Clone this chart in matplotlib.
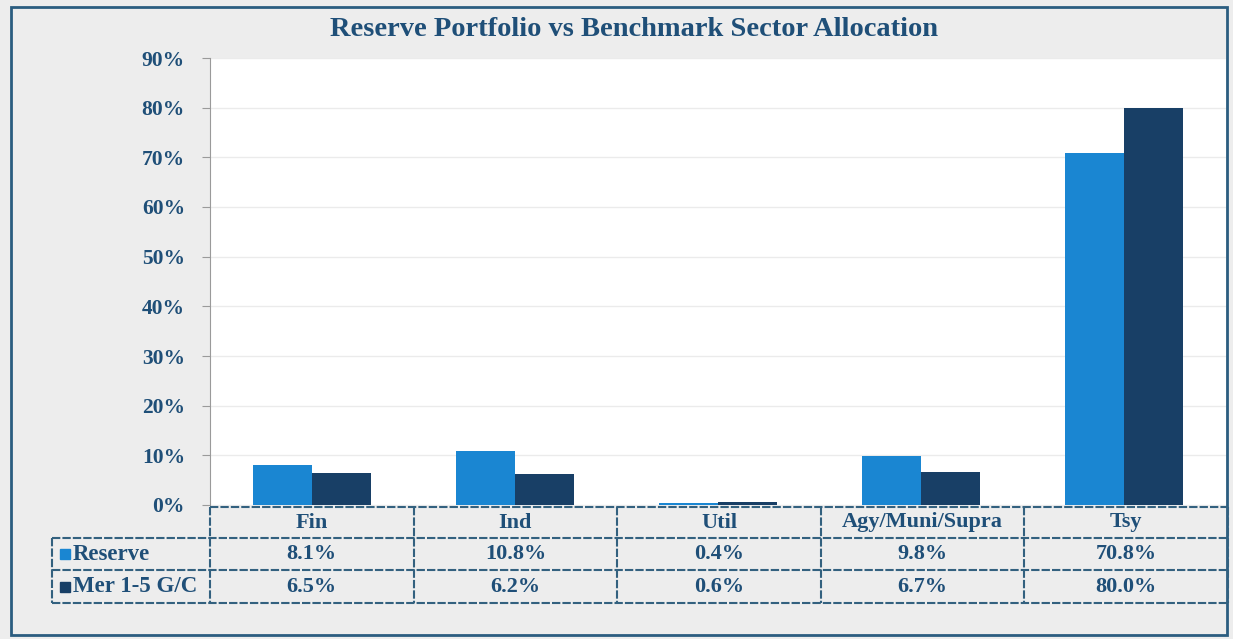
import matplotlib.pyplot as plt
from matplotlib.patches import Rectangle
from matplotlib.ticker import PercentFormatter

# Data
sectors = ['Fin', 'Ind', 'Util', 'Agy/Muni/Supra', 'Tsy']
reserve = [8.1, 10.8, 0.4, 9.8, 70.8]
benchmark = [6.5, 6.2, 0.6, 6.7, 80.0]
series_names = ['Reserve', 'Mer 1-5 G/C']
yticks = [0, 10, 20, 30, 40, 50, 60, 70, 80, 90]

navy_text = '#1f4f78'
c_res = '#1a86d2'
c_ben = '#183f66'
font = 'Liberation Serif'

W, H = 1233, 639
fig = plt.figure(figsize=(W / 100, H / 100), dpi=100, facecolor='#ededed')

def fx(px):
    return px / W

def fy(py):
    return 1 - py / H

# outer frame
fig.patches.append(Rectangle((fx(11), fy(635)), fx(1216), fy(7) - fy(635),
                             transform=fig.transFigure, fill=False,
                             edgecolor='#2b5d80', linewidth=2))

ax_left, ax_right, ax_top, ax_bot = 210, 1226, 58, 505
ax = fig.add_axes([fx(ax_left), fy(ax_bot), fx(ax_right - ax_left), fy(ax_top) - fy(ax_bot)])
ax.set_facecolor('white')

x = range(len(sectors))
w = 0.29
ax.bar([i - w / 2 for i in x], reserve, width=w, color=c_res, zorder=3)
ax.bar([i + w / 2 for i in x], benchmark, width=w, color=c_ben, zorder=3)
ax.set_xlim(-0.5, len(sectors) - 0.5)
ax.set_ylim(0, 90)
ax.set_yticks(yticks)
ax.yaxis.set_major_formatter(PercentFormatter(decimals=0))
ax.grid(axis='y', color='#ebebeb', linewidth=1, zorder=0)
ax.set_xticks([])
for s in ['top', 'right', 'bottom']:
    ax.spines[s].set_visible(False)
ax.spines['left'].set_color('#9a9a9a')
ax.spines['left'].set_linestyle((0, (2, 1)))
ax.tick_params(axis='y', length=6, color='#9a9a9a', pad=12)
for lab in ax.get_yticklabels():
    lab.set_fontfamily(font)
    lab.set_fontweight('bold')
    lab.set_fontsize(15.5)
    lab.set_color(navy_text)

fig.text(fx(634), fy(30), 'Reserve Portfolio vs Benchmark Sector Allocation',
         ha='center', va='center', fontfamily=font, fontweight='bold',
         fontsize=20.5, color=navy_text)

# data table under the axes
line_c = '#33617f'
col_w = (ax_right + 2 - ax_left) / len(sectors)
rows_y = [507, 538, 570, 603]
label_left = 52

def hline(x0, x1, y):
    fig.add_artist(plt.Line2D([fx(x0), fx(x1)], [fy(y), fy(y)], color=line_c,
                              linewidth=1.5, linestyle=(0, (4, 1))))

def vline(xp, y0, y1):
    fig.add_artist(plt.Line2D([fx(xp), fx(xp)], [fy(y0), fy(y1)], color=line_c,
                              linewidth=1.5, linestyle=(0, (4, 1))))

hline(ax_left, 1228, rows_y[0])
for y in rows_y[1:]:
    hline(label_left, 1228, y)
vline(label_left, rows_y[1], rows_y[3])
for i in range(len(sectors) + 1):
    vline(ax_left + i * col_w, rows_y[0], rows_y[3])

txt = dict(ha='center', va='center', fontfamily=font, fontweight='bold',
           fontsize=16, color=navy_text)
for i, s in enumerate(sectors):
    cx = ax_left + (i + 0.5) * col_w
    fig.text(fx(cx), fy((rows_y[0] + rows_y[1]) / 2), s, **txt)
    fig.text(fx(cx), fy((rows_y[1] + rows_y[2]) / 2), f'{reserve[i]:.1f}%', **txt)
    fig.text(fx(cx), fy((rows_y[2] + rows_y[3]) / 2), f'{benchmark[i]:.1f}%', **txt)

for r, (name, col) in enumerate(zip(series_names, [c_res, c_ben])):
    yc = (rows_y[r + 1] + rows_y[r + 2]) / 2
    fig.patches.append(Rectangle((fx(60), fy(yc + 5)), fx(10), fy(yc - 5) - fy(yc + 5),
                                 transform=fig.transFigure, color=col))
    fig.text(fx(73), fy(yc), name, ha='left', va='center', fontfamily=font,
             fontweight='bold', fontsize=16.5, color=navy_text)

fig.savefig('out.png', dpi=100, facecolor=fig.get_facecolor())
